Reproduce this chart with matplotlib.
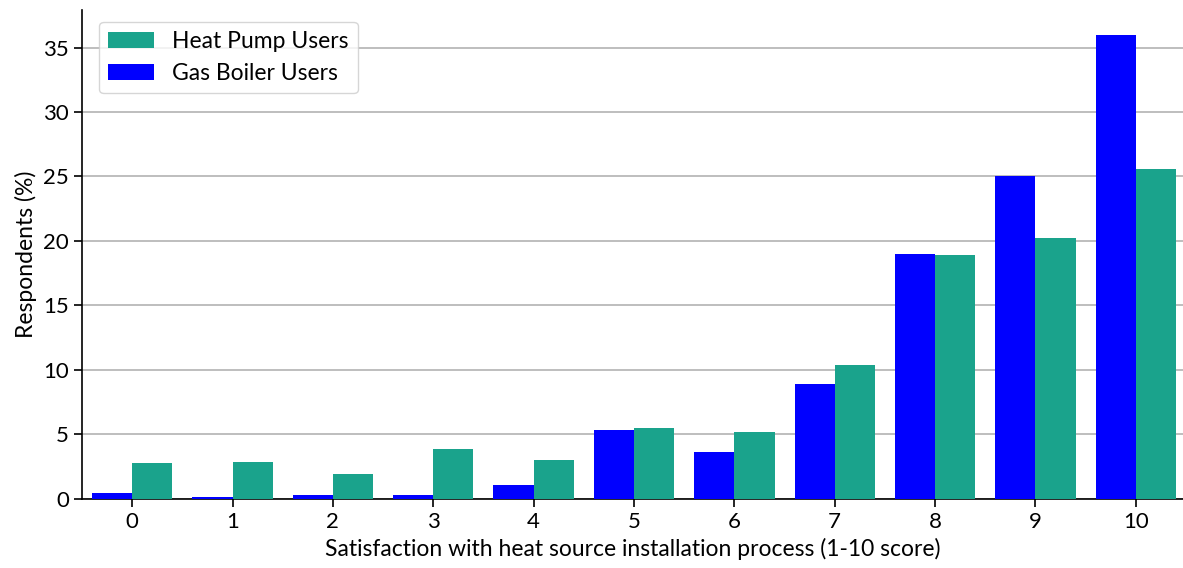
import numpy as np
import matplotlib.pyplot as plt

plt.rcParams['font.family'] = ['Lato', 'DejaVu Sans']

scores = [0, 1, 2, 3, 4, 5, 6, 7, 8, 9, 10]
gas_boiler = [0.45, 0.15, 0.3, 0.3, 1.05, 5.3, 3.6, 8.9, 19.0, 25.0, 36.0]
heat_pump = [2.75, 2.85, 1.95, 3.85, 3.0, 5.5, 5.15, 10.4, 18.9, 20.2, 25.55]

x = np.arange(len(scores))
w = 0.4

fig, ax = plt.subplots(figsize=(11.83, 5.68), dpi=100)
fig.subplots_adjust(left=0.0693, right=1.0, top=0.982, bottom=0.122)

ax.bar(x - w/2, gas_boiler, w, color='#0000ff', label='Gas Boiler Users', zorder=3)
ax.bar(x + w/2, heat_pump, w, color='#1aa38c', label='Heat Pump Users', zorder=3)

ax.set_xlim(-0.5, 10.47)
ax.set_ylim(0, 37.9)
ax.set_xticks(x)
ax.set_xticklabels([str(s) for s in scores])
ax.set_yticks(range(0, 40, 5))
ax.tick_params(labelsize=16, width=1.2, length=6)
ax.grid(axis='y', color='#b3b3b3', lw=1.2, zorder=0)
ax.spines['top'].set_visible(False)
ax.spines['right'].set_visible(False)
ax.spines['left'].set_linewidth(1.2)
ax.spines['bottom'].set_linewidth(1.2)

ax.set_xlabel('Satisfaction with heat source installation process (1-10 score)', fontsize=16.5)
ax.set_ylabel('Respondents (%)', fontsize=16.5)

h, l = ax.get_legend_handles_labels()
ax.legend(h[::-1], l[::-1], loc='upper left', fontsize=16.5, bbox_to_anchor=(0.005, 1.0))

fig.savefig('out.png')
